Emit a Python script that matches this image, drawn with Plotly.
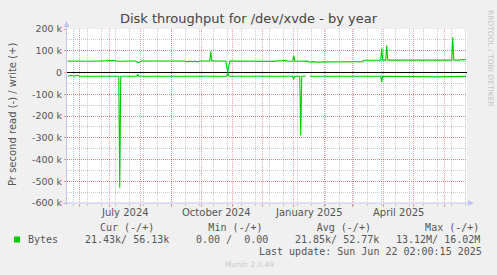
import plotly.graph_objects as go

# ---------------- data (values in thousands of bytes per second) ----------------
write_dates = ["2024-05-20", "2024-05-25", "2024-06-01", "2024-06-10", "2024-06-20", "2024-06-28",
               "2024-07-05", "2024-07-09", "2024-07-11", "2024-07-20", "2024-07-27", "2024-07-29",
               "2024-07-31", "2024-08-02", "2024-08-15", "2024-08-25", "2024-09-05", "2024-09-12",
               "2024-09-14", "2024-09-17", "2024-09-19", "2024-09-22", "2024-09-24", "2024-09-27",
               "2024-09-29", "2024-10-09", "2024-10-10", "2024-10-11", "2024-10-13", "2024-10-25",
               "2024-10-27", "2024-10-29", "2024-11-10", "2024-11-20", "2024-12-01", "2024-12-10",
               "2024-12-24", "2024-12-26", "2024-12-31", "2025-01-01", "2025-01-02", "2025-01-08",
               "2025-01-15", "2025-01-17", "2025-01-20", "2025-01-25", "2025-02-01", "2025-02-10",
               "2025-02-20", "2025-02-28", "2025-03-05", "2025-03-11", "2025-03-12", "2025-03-20",
               "2025-03-29", "2025-03-30", "2025-03-31", "2025-04-03", "2025-04-04", "2025-04-05",
               "2025-04-20", "2025-05-01", "2025-05-15", "2025-05-25", "2025-06-08", "2025-06-09",
               "2025-06-10", "2025-06-15", "2025-06-19", "2025-06-22"]
write_vals = [53, 52, 53, 52, 53, 55,
              55, 53, 52, 53, 53, 44,
              50, 53, 53, 52, 53, 50,
              53, 49, 53, 50, 53, 49,
              53, 53, 98, 55, 53, 53,
              2, 53, 52, 50, 52, 51,
              55, 52, 53, 78, 52, 52,
              53, 47, 50, 47, 49, 48,
              49, 47, 49, 50, 56, 57,
              57, 111, 57, 57, 124, 57,
              57, 58, 57, 58, 57, 162,
              58, 57, 60, 58]

read_dates = ["2024-05-20", "2024-05-24", "2024-05-26", "2024-05-30", "2024-06-01", "2024-07-10",
              "2024-07-11", "2024-07-12", "2024-07-28", "2024-07-29", "2024-07-30", "2024-10-26",
              "2024-10-27", "2024-10-28", "2024-12-31", "2025-01-01", "2025-01-02", "2025-01-07",
              "2025-01-08", "2025-01-09", "2025-01-10", "2025-01-13", "2025-01-14", "2025-01-17",
              "2025-03-29", "2025-03-30", "2025-03-31", "2025-05-25", "2025-06-07", "2025-06-08",
              "2025-06-10", "2025-06-22"]
read_vals = [-17, -13, -17, -13, -17, -17,
             -530, -17, -17, -8, -17, -17,
             0, -17, -17, -31, -17, -17,
             -290, -17, -17, -17, None, -17,
             -17, -44, -17, -20, -20, -21,
             -18, -18]

y_tick_vals = [200, 100, 0, -100, -200, -300, -400, -500, -600]
y_tick_text = ["200 k", "100 k", "0", "-100 k", "-200 k", "-300 k", "-400 k", "-500 k", "-600 k"]

month_starts = ["2024-06-01", "2024-07-01", "2024-08-01", "2024-09-01", "2024-10-01", "2024-11-01",
                "2024-12-01", "2025-01-01", "2025-02-01", "2025-03-01", "2025-04-01", "2025-05-01",
                "2025-06-01"]
x_label_pos = ["2024-07-16", "2024-10-16", "2025-01-16", "2025-04-16"]
x_label_text = ["July 2024", "October 2024", "January 2025", "April 2025"]

legend_name = "Bytes"
legend_cur = "21.43k/ 56.13k"
legend_min = "0.00 /  0.00"
legend_avg = "21.85k/ 52.77k"
legend_max = "13.12M/ 16.02M"
last_update = "Last update: Sun Jun 22 02:00:15 2025"

# ---------------- layout geometry ----------------
WIDTH, HEIGHT = 497, 275
L, R, T, B = 67, 30, 29, 72
PW = WIDTH - L - R
PH = HEIGHT - T - B


def px(x):
    return (x - L) / PW


def py(y):
    return (HEIGHT - B - y) / PH


GREEN = "#00CC00"
MAJ = "rgba(222,48,48,0.45)"
MIN = "rgba(143,143,143,0.45)"
AXC = "#c4c4f2"
TXT = "#555555"
SANS = "DejaVu Sans"
MONO = "DejaVu Sans Mono"

fig = go.Figure()
fig.add_trace(go.Scatter(x=write_dates, y=write_vals, mode="lines",
                         line=dict(color=GREEN, width=1.1), connectgaps=False,
                         hoverinfo="skip", showlegend=False))
fig.add_trace(go.Scatter(x=read_dates, y=read_vals, mode="lines",
                         line=dict(color=GREEN, width=1.1), connectgaps=False,
                         hoverinfo="skip", showlegend=False))

fig.update_layout(
    width=WIDTH, height=HEIGHT,
    margin=dict(l=L, r=R, t=T, b=B, pad=0),
    paper_bgcolor="#F0F0F0", plot_bgcolor="#FFFFFF",
    showlegend=False,
    font=dict(family=SANS, color=TXT, size=10),
    title=dict(text="Disk throughput for /dev/xvde - by year", x=0.5, xref="container",
               y=1 - 18 / HEIGHT, yref="container", xanchor="center", yanchor="middle",
               font=dict(family=SANS, size=13, color="#444444")),
    xaxis=dict(range=["2024-05-19 06:00", "2025-06-23 06:00"], tickmode="array",
               tickvals=month_starts, showticklabels=False,
               showgrid=True, gridcolor=MAJ, griddash="1px,1px", gridwidth=1,
               ticks="outside", ticklen=3, tickcolor=MAJ,
               minor=dict(dtick=14 * 86400000, tick0="2024-05-26", showgrid=True,
                          gridcolor=MIN, griddash="1px,1px", ticks="outside", ticklen=2, tickcolor=MIN),
               showline=False, zeroline=False, fixedrange=True),
    yaxis=dict(range=[-600, 200], tickmode="array", tickvals=y_tick_vals, ticktext=y_tick_text,
               tickfont=dict(family=SANS, size=9.5, color=TXT),
               showgrid=True, gridcolor=MAJ, griddash="1px,1px", gridwidth=1,
               ticks="outside", ticklen=2, tickcolor=MAJ,
               minor=dict(dtick=50, tick0=0, showgrid=True, gridcolor=MIN, griddash="1px,1px"),
               zeroline=True, zerolinecolor="#000000", zerolinewidth=1,
               showline=False, fixedrange=True),
)

ann = []
for xp, tx in zip(x_label_pos, x_label_text):
    ann.append(dict(x=xp, xref="x", y=py(212.5), yref="paper", text=tx, showarrow=False,
                    xanchor="center", yanchor="middle", font=dict(family=SANS, size=10, color=TXT)))
ann.append(dict(x=px(12), y=py(114), xref="paper", yref="paper", text="Pr second read (-) / write (+)",
                textangle=-90, showarrow=False, xanchor="center", yanchor="middle",
                font=dict(family=SANS, size=10, color=TXT)))
ann.append(dict(x=px(490), y=py(58), xref="paper", yref="paper", text="RRDTOOL / TOBI OETIKER",
                textangle=90, showarrow=False, xanchor="center", yanchor="middle",
                font=dict(family=SANS, size=7.5, color="#c4c4c4")))
ann.append(dict(x=px(249), y=py(264.5), xref="paper", yref="paper", text="Munin 2.0.49",
                showarrow=False, xanchor="center", yanchor="middle",
                font=dict(family=SANS, size=7.5, color="#c8c8c8")))

nb = "\u00a0"
header = ("Cur (-/+)" + nb * 9 + "Min (-/+)" + nb * 9 + "Avg (-/+)" + nb * 9 + "Max (-/+)").replace(" ", nb)
ann.append(dict(x=px(98.3), y=py(227.7), xref="paper", yref="paper", text=header, showarrow=False,
                xanchor="left", yanchor="middle", font=dict(family=MONO, size=10, color=TXT)))
for xx, tx in [(26.3, legend_name), (82.7, legend_cur), (194, legend_min), (293.3, legend_avg), (394, legend_max)]:
    ann.append(dict(x=px(xx), y=py(239.5), xref="paper", yref="paper", text=tx.replace(" ", nb),
                    showarrow=False, xanchor="left", yanchor="middle",
                    font=dict(family=MONO, size=10, color=TXT)))
ann.append(dict(x=px(483.5), y=py(251.7), xref="paper", yref="paper", text=last_update.replace(" ", nb),
                showarrow=False, xanchor="right", yanchor="middle",
                font=dict(family=MONO, size=10, color=TXT)))
fig.update_layout(annotations=ann)

shapes = []
# legend colour square
shapes.append(dict(type="rect", xref="paper", yref="paper", x0=px(14), x1=px(20), y0=py(242.5), y1=py(236.5),
                   fillcolor=GREEN, line=dict(width=0)))
# axes with arrows
shapes.append(dict(type="line", xref="paper", yref="paper", x0=px(66.5), x1=px(66.5), y0=py(205), y1=py(25),
                   line=dict(color=AXC, width=1)))
shapes.append(dict(type="path", xref="paper", yref="paper",
                   path=f"M {px(63.5)} {py(27)} L {px(69.5)} {py(27)} L {px(66.5)} {py(21)} Z",
                   fillcolor=AXC, line=dict(width=0)))
shapes.append(dict(type="line", xref="paper", yref="paper", x0=px(63), x1=px(470), y0=py(203), y1=py(203),
                   line=dict(color=AXC, width=1)))
shapes.append(dict(type="path", xref="paper", yref="paper",
                   path=f"M {px(468)} {py(200)} L {px(468)} {py(206)} L {px(474)} {py(203)} Z",
                   fillcolor=AXC, line=dict(width=0)))
fig.update_layout(shapes=shapes)

fig.write_html("out.html", config={"displayModeBar": False, "staticPlot": True})
